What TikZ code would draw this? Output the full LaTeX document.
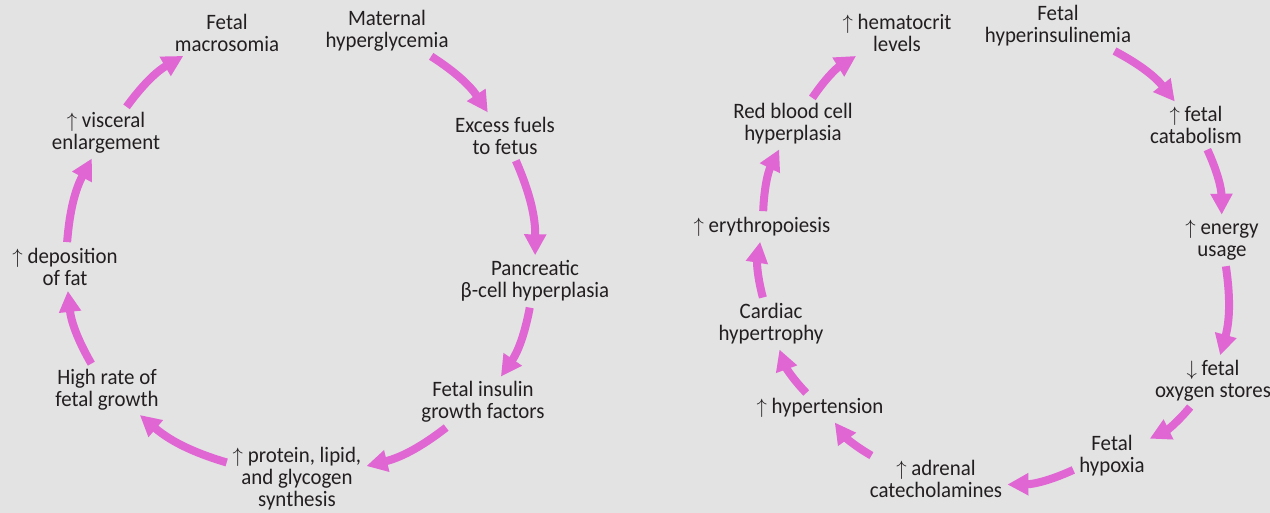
\documentclass[tikz,border=0pt]{standalone}
\usepackage{fontspec}
\setmainfont[FakeStretch=0.95]{Carlito}
\usepackage{tikz}
\usetikzlibrary{arrows.meta}
\definecolor{bggray}{HTML}{E3E3E3}
\definecolor{flowpink}{HTML}{E066D4}
\definecolor{txtgray}{HTML}{231F20}

\begin{document}
\begin{tikzpicture}[x=1pt, y=1pt,
  lbl/.style={align=center, font=\fontsize{22}{22}\selectfont, text=txtgray, inner sep=3pt},
  flow/.style={flowpink, line width=8pt, -{Triangle[length=21pt, width=21pt]}, bend left=12, shorten <=3pt, shorten >=2pt}]
  \fill[bggray] (0,0) rectangle (1270,513);
  \useasboundingbox (0,0) rectangle (1270,513);
  % 1. Left cycle
  \node[lbl] (mat) at (387,482) {Maternal\\hyperglycemia};
  \node[lbl] (exc) at (505,377) {Excess fuels\\to fetus};
  \node[lbl] (pan) at (535,232) {Pancreatic\\β-cell hyperplasia};
  \node[lbl] (ins) at (483,111) {Fetal insulin\\growth factors};
  \node[lbl] (pro) at (297,34) {$\uparrow$ protein, lipid,\\and glycogen\\synthesis};
  \node[lbl] (hig) at (107,123) {High rate of\\fetal growth};
  \node[lbl] (dep) at (65,246) {$\uparrow$ deposition\\of fat};
  \node[lbl] (vis) at (106,380) {$\uparrow$ visceral\\enlargement};
  \node[lbl] (mac) at (227,480) {Fetal\\macrosomia};
  \draw[flow] (mat) to (exc);
  \draw[flow] (exc) to (pan);
  \draw[flow] (pan) to (ins);
  \draw[flow] (ins) to (pro);
  \draw[flow] (pro) to (hig);
  \draw[flow] (hig) to (dep);
  \draw[flow] (dep) to (vis);
  \draw[flow] (vis) to (mac);
  % 2. Right cycle
  \node[lbl] (hyp) at (1058,487) {Fetal\\hyperinsulinemia};
  \node[lbl] (cat) at (1196,388) {$\uparrow$ fetal\\catabolism};
  \node[lbl] (ene) at (1222,273) {$\uparrow$ energy\\usage};
  \node[lbl] (oxy) at (1213,132) {$\downarrow$ fetal\\oxygen stores};
  \node[lbl] (hpx) at (1112,57) {Fetal\\hypoxia};
  \node[lbl] (adr) at (936,34) {$\uparrow$ adrenal\\catecholamines};
  \node[lbl] (hyt) at (820,105) {$\uparrow$ hypertension};
  \node[lbl] (car) at (771,189) {Cardiac\\hypertrophy};
  \node[lbl] (ery) at (762,286) {$\uparrow$ erythropoiesis};
  \node[lbl] (rbc) at (793,389) {Red blood cell\\hyperplasia};
  \node[lbl] (hem) at (897,480) {$\uparrow$ hematocrit\\levels};
  \draw[flow] (hyp) to (cat);
  \draw[flow] (cat) to (ene);
  \draw[flow] (ene) to (oxy);
  \draw[flow] (oxy) to (hpx);
  \draw[flow] (hpx) to (adr);
  \draw[flow] (adr) to (hyt);
  \draw[flow] (hyt) to (car);
  \draw[flow] (car) to (ery);
  \draw[flow] (ery) to (rbc);
  \draw[flow] (rbc) to (hem);
\end{tikzpicture}
\end{document}
